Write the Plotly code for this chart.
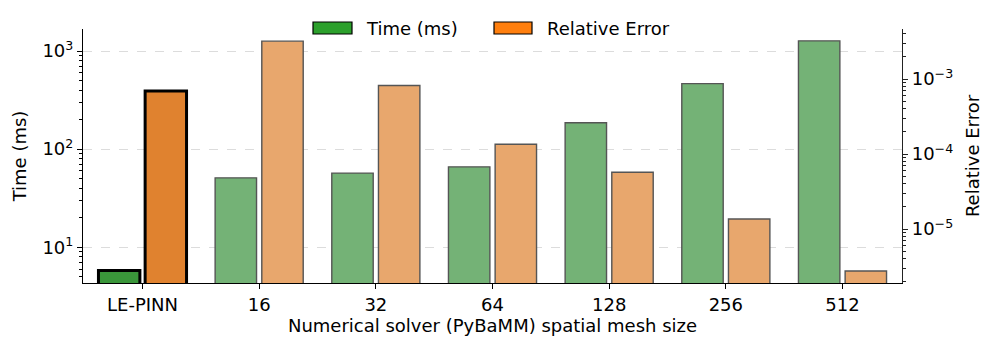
import plotly.graph_objects as go

categories = ["LE-PINN", "16", "32", "64", "128", "256", "512"]
time_ms = [5.8, 51, 57, 66, 186, 465, 1270]
rel_error = [6.9e-4, 3.2e-3, 8.2e-4, 1.35e-4, 5.7e-5, 1.36e-5, 2.75e-6]
time_ticks = [10, 100, 1000]
time_ticktext = ["10<sup>1</sup>", "10<sup>2</sup>", "10<sup>3</sup>"]
err_ticks = [1e-5, 1e-4, 1e-3]
err_ticktext = ["10<sup>\u22125</sup>", "10<sup>\u22124</sup>", "10<sup>\u22123</sup>"]

# page body has an 8px default margin; compensate
OFF = 8
W, H = 997 - OFF, 352 - OFF
L, R, T, B = 83 - OFF, 95, 29 - OFF, 69
PW, PH = W - L - R, H - T - B

def px(x):  # page pixel -> paper
    return (x - OFF - L) / PW

def py(y):
    return (H - B - (y - OFF)) / PH

xs = list(range(len(categories)))
bw = 0.355

green_fill = ["#3a963a"] + ["#74b276"] * 6
orange_fill = ["#e0822f"] + ["#e8a76d"] * 6
edge_col = ["#000000"] + ["#555555"] * 6
edge_w = [3] + [1.4] * 6

fig = go.Figure()
fig.add_trace(go.Bar(
    x=xs, y=time_ms, name="Time (ms)", yaxis="y",
    width=bw, offset=-0.2 - bw / 2,
    marker=dict(color=green_fill, line=dict(color=edge_col, width=edge_w)),
    showlegend=False,
))
fig.add_trace(go.Bar(
    x=xs, y=rel_error, name="Relative Error", yaxis="y2",
    width=bw, offset=0.2 - bw / 2,
    marker=dict(color=orange_fill, line=dict(color=edge_col, width=edge_w)),
    showlegend=False,
))

FONT = "DejaVu Sans"
fs = 18

shapes = [
    dict(type="rect", xref="paper", yref="paper", x0=px(313), x1=px(352), y0=py(34), y1=py(22),
         fillcolor="#2ca02c", line=dict(color="#000000", width=1.2)),
    dict(type="rect", xref="paper", yref="paper", x0=px(494), x1=px(532), y0=py(34), y1=py(22),
         fillcolor="#ff7f0e", line=dict(color="#000000", width=1.2)),
]
annotations = [
    dict(xref="paper", yref="paper", x=px(364), y=py(28), text="Time (ms)", showarrow=False,
         xanchor="left", yanchor="middle", font=dict(family=FONT, size=fs, color="#000")),
    dict(xref="paper", yref="paper", x=px(545), y=py(28), text="Relative Error", showarrow=False,
         xanchor="left", yanchor="middle", font=dict(family=FONT, size=fs, color="#000")),
]

fig.update_layout(
    width=W, height=H,
    margin=dict(l=L, r=R, t=T, b=B, pad=0, autoexpand=False),
    paper_bgcolor="white", plot_bgcolor="white",
    barmode="overlay",
    font=dict(family=FONT, size=fs, color="#000"),
    shapes=shapes, annotations=annotations,
    xaxis=dict(
        range=[-0.51, 6.51], tickvals=xs, ticktext=categories, automargin=False,
        showline=True, linecolor="#000", linewidth=1.2,
        ticks="outside", ticklen=5, tickcolor="#000", showgrid=False, zeroline=False,
        title=dict(text="Numerical solver (PyBaMM) spatial mesh size", standoff=4,
                   font=dict(family=FONT, size=fs)),
        tickfont=dict(family=FONT, size=fs),
    ),
    yaxis=dict(
        type="log", range=[0.636, 3.2245], tickvals=time_ticks, ticktext=time_ticktext,
        automargin=False,
        showline=True, linecolor="#000", linewidth=1.2,
        ticks="outside", ticklen=5, tickcolor="#000",
        minor=dict(ticks="outside", ticklen=3, tickcolor="#000", dtick="D1", showgrid=False),
        showgrid=True, gridcolor="#dcdcdc", griddash="dash", gridwidth=1, zeroline=False,
        title=dict(text="Time (ms)", standoff=11, font=dict(family=FONT, size=fs)),
        tickfont=dict(family=FONT, size=fs),
    ),
    yaxis2=dict(
        type="log", range=[-5.72, -2.333], tickvals=err_ticks, ticktext=err_ticktext,
        automargin=False,
        overlaying="y", side="right",
        showline=True, linecolor="#222", linewidth=1.2,
        ticks="outside", ticklen=5, tickcolor="#222",
        minor=dict(ticks="outside", ticklen=3, tickcolor="#222", dtick="D1", showgrid=False),
        showgrid=False, zeroline=False,
        title=dict(text="Relative Error", standoff=14, font=dict(family=FONT, size=fs)),
        tickfont=dict(family=FONT, size=fs),
    ),
)

fig.write_html("out.html")
